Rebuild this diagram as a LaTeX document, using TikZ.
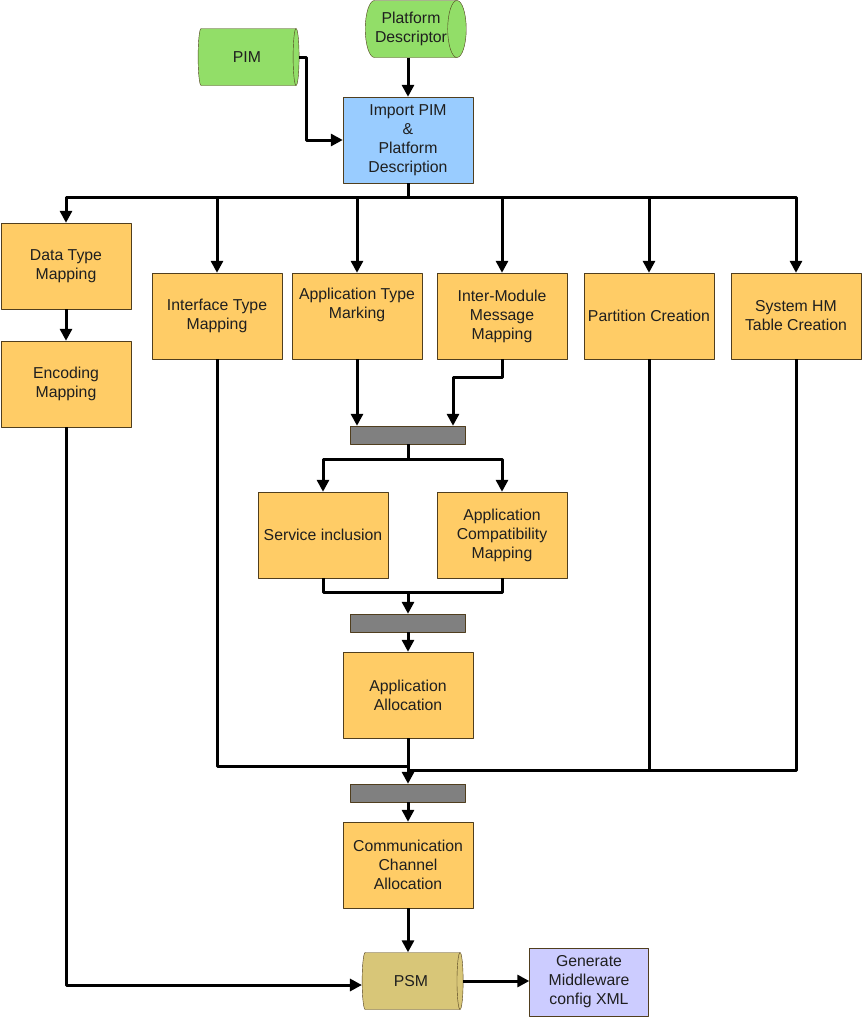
\documentclass[tikz,border=0pt]{standalone}
\usepackage{fontspec}
\setmainfont{Liberation Sans}
\usetikzlibrary{shapes.geometric,arrows.meta}
\definecolor{taskfill}{RGB}{255,204,102}
\definecolor{storefill}{RGB}{146,222,104}
\definecolor{importfill}{RGB}{153,204,255}
\definecolor{genfill}{RGB}{204,204,255}
\definecolor{psmfill}{RGB}{216,198,120}
\definecolor{bargray}{RGB}{128,128,128}
\definecolor{boxline}{RGB}{80,62,30}
\begin{document}
\begin{tikzpicture}[x=1pt, y=-1pt, line join=round, >={Triangle[length=12pt,width=12pt]},
    font=\fontsize{15.8}{19}\selectfont, text=black!88,
    task/.style={draw=boxline, fill=taskfill, minimum width=130pt, minimum height=86pt, inner sep=0pt, align=center},
    store/.style={cylinder, draw=boxline, fill=storefill, aspect=0.55, minimum width=57pt, minimum height=101pt, inner sep=0pt, align=center},
    bar/.style={draw=boxline, fill=bargray, minimum width=115pt, minimum height=18pt, inner sep=0pt},
    flow/.style={line width=3pt, ->},
    wire/.style={line width=3pt}]
    \useasboundingbox (0,0) rectangle (862,1017);
    % sources
    \node[store] (pim) at (247,57) {PIM};
    \node[store] (platd) at (411,29) {Platform\\Descriptor};
    \node[task, fill=importfill] (import) at (408,140) {Import PIM\\\&\\Platform\\Description};
    \coordinate (bus) at (408,197);
    % mapping steps
    \node[task] (dtm) at (66,266) {Data Type\\Mapping};
    \node[task] (enc) at (66,384) {Encoding\\Mapping};
    \node[task] (itm) at (217,316) {Interface Type\\Mapping};
    \node[task] (atm) at (357,316) {Application Type\\Marking\\[6pt]};
    \node[task] (imm) at (502,316) {Inter-Module\\Message\\Mapping};
    \node[task] (part) at (649,316) {Partition Creation};
    \node[task] (shm) at (796,316) {System HM\\Table Creation};
    \node[bar] (bar1) at (408,435) {};
    \node[task] (svc) at (323,535) {Service inclusion};
    \node[task] (acm) at (502,535) {Application\\Compatibility\\Mapping};
    \coordinate (join1) at (408,592);
    \node[bar] (bar2) at (408,623) {};
    \node[task] (alloc) at (408,695) {Application\\Allocation};
    \coordinate (join2) at (408,766);
    \coordinate (join3) at (408,770);
    \node[bar] (bar3) at (408,793) {};
    \node[task] (comm) at (408,865) {Communication\\Channel\\Allocation};
    % outputs
    \node[store, fill=psmfill] (psm) at (411,981) {PSM};
    \node[task, fill=genfill, minimum width=119pt, minimum height=68pt] (gen) at (589,982) {Generate\\Middleware\\config XML};
    % connectors
    \draw[flow] (platd.south -| import.north) -- (import.north);
    \draw[flow] (pim.east) -- ++(7,0) |- (import.west);
    \draw[wire] (import.south) -- (bus);
    \draw[flow] (bus) -| (dtm.north);
    \draw[flow] (bus) -| (itm.north);
    \draw[flow] (bus) -| (atm.north);
    \draw[flow] (bus) -| (imm.north);
    \draw[flow] (bus) -| (part.north);
    \draw[flow] (bus) -| (shm.north);
    \draw[flow] (dtm) -- (enc);
    \draw[flow] (atm.south) -- (atm.south |- bar1.north);
    \draw[flow] (imm.south) -- ++(0,18) -| ([xshift=45pt]bar1.north);
    \draw[flow] (bar1.south) -- ++(0,15) -| (svc.north);
    \draw[flow] (bar1.south) -- ++(0,15) -| (acm.north);
    \draw[wire] (svc.south) |- (join1) -| (acm.south);
    \draw[flow] (join1) -- (bar2);
    \draw[flow] (bar2) -- (alloc);
    \draw[wire] (itm.south) |- (join2);
    \draw[wire] (shm.south) |- (join3);
    \draw[wire] (part.south) -- (part.south |- join3);
    \draw[flow] (alloc) -- (bar3);
    \draw[flow] (bar3) -- (comm);
    \draw[flow] (comm.south) -- (comm.south |- psm.north);
    \draw[flow] (enc.south) |- ([yshift=-4pt]psm.west);
    \draw[flow] (psm.east) -- (psm.east -| gen.west);
\end{tikzpicture}
\end{document}
